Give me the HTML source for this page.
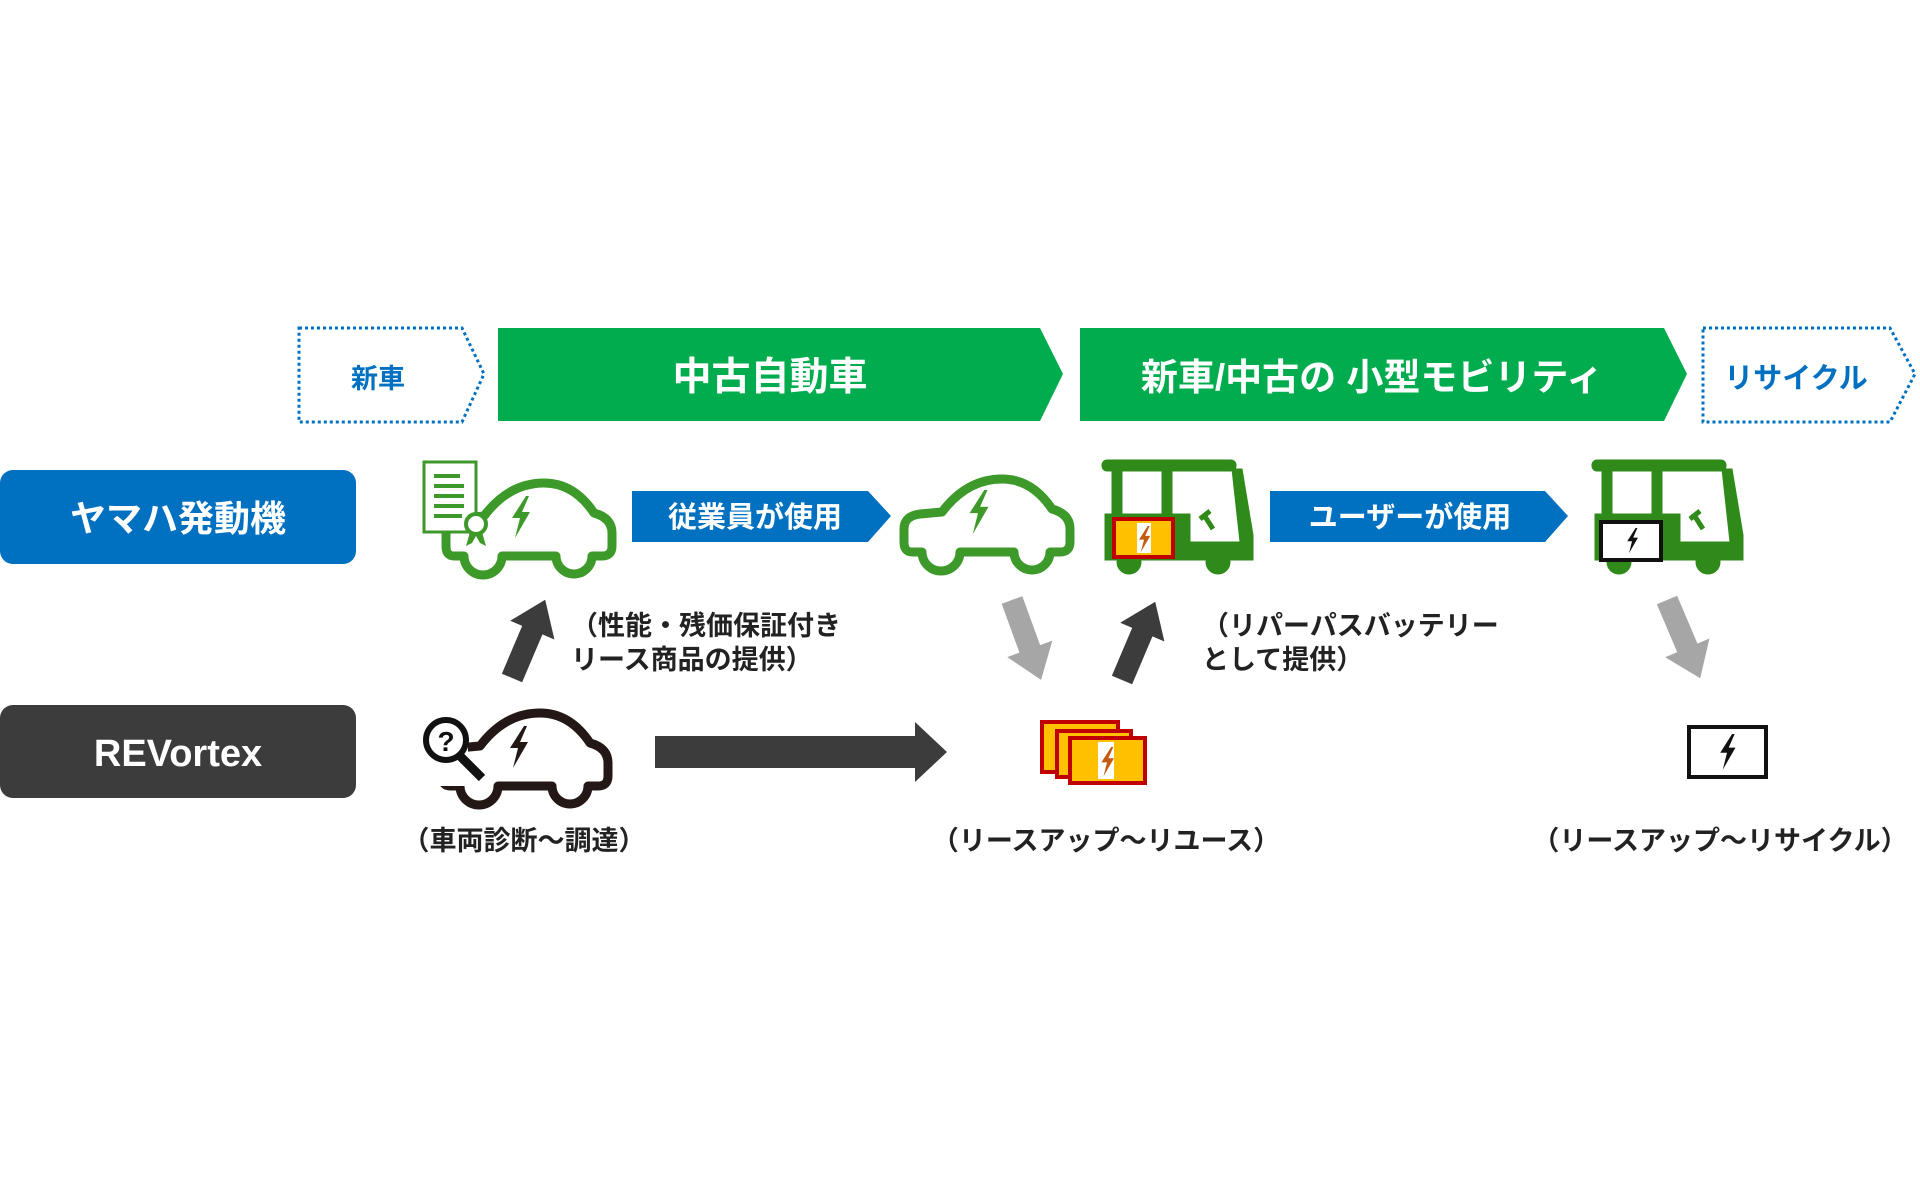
<!DOCTYPE html>
<html><head><meta charset="utf-8"><style>
html,body{margin:0;padding:0;background:#fff;width:1920px;height:1200px;overflow:hidden}
svg text{font-family:"Liberation Sans","Noto Sans CJK JP",sans-serif;}
</style></head><body>
<svg width="1920" height="1200" viewBox="0 0 1920 1200" xmlns="http://www.w3.org/2000/svg">
<defs>
<path id="car" d="M58,78 L112,78 A18,18 0 0 0 148,78 L158,78 Q168,78 168,68 L168,55 Q168,40 150,35 Q130,5 100,5 Q65,5 40,38 L18,40 Q2,42 2,55 L2,68 Q2,78 10,78 L20,78 A19,19 0 0 0 58,78 Z" fill="none" stroke-width="9" stroke-linejoin="round"/>
<polygon id="bolt" points="6,0 -8,22 0,22 -5,42 10,16 2,16 9,0"/>
<polygon id="arr" points="-11,0 11,0 11,-52 24,-52 0,-85 -24,-52 -11,-52"/>
<g id="tuk">
<rect x="2" y="1" width="134" height="11" rx="5"/>
<rect x="12" y="8" width="10" height="60"/>
<rect x="62" y="8" width="10" height="60"/>
<polygon points="5,55 90,55 90,83 140,83 132,10 142,10 153,76 153,101 5,101"/>
<circle cx="29" cy="103" r="12"/><circle cx="118" cy="103" r="12"/>
<line x1="104" y1="56" x2="113" y2="70" stroke-width="5"/>
<line x1="100" y1="60" x2="110" y2="52" stroke-width="5"/>
</g>
</defs>

<polygon points="299,328 462,328 484,374 462,422 299,422" fill="none" stroke="#0070c0" stroke-width="3" stroke-dasharray="3,3"/>
<text x="378" y="388" font-size="27" fill="#0070c0" text-anchor="middle" font-weight="bold">新車</text>
<polygon points="498,328 1040,328 1063,374 1040,421 498,421" fill="#00ac4e"/>
<text x="770" y="390" font-size="39" fill="#fff" text-anchor="middle" font-weight="bold">中古自動車</text>
<polygon points="1080,328 1664,328 1687,374 1664,421 1080,421" fill="#00ac4e"/>
<text x="1372" y="390" font-size="37" fill="#fff" text-anchor="middle" font-weight="bold">新車/中古の 小型モビリティ</text>
<polygon points="1703,328 1890,328 1915,374 1890,422 1703,422" fill="none" stroke="#0070c0" stroke-width="3" stroke-dasharray="3,3"/>
<text x="1796" y="388" font-size="29" fill="#0070c0" text-anchor="middle" font-weight="bold">リサイクル</text>

<rect x="0" y="470" width="356" height="94" rx="13" fill="#0070c0"/>
<text x="178" y="531" font-size="36" fill="#fff" text-anchor="middle" font-weight="bold">ヤマハ発動機</text>
<rect x="0" y="705" width="356" height="93" rx="13" fill="#3c3c3c"/>
<text x="178" y="766" font-size="38" fill="#fff" text-anchor="middle" font-weight="bold">REVortex</text>

<g transform="translate(444,478)"><use href="#car" stroke="#3d9a2a"/></g>
<rect x="424" y="462" width="52" height="70" fill="#fff" stroke="#3d9a2a" stroke-width="3"/>
<g stroke="#3d9a2a" stroke-width="4"><line x1="434" y1="476" x2="460" y2="476"/><line x1="434" y1="486" x2="464" y2="486"/><line x1="434" y1="496" x2="464" y2="496"/><line x1="434" y1="506" x2="464" y2="506"/><line x1="434" y1="516" x2="462" y2="516"/></g>
<circle cx="476" cy="524" r="10" fill="#fff" stroke="#3d9a2a" stroke-width="4"/>
<polygon points="470,532 466,546 472,543 476,536 480,543 486,546 482,532" fill="#3d9a2a"/>
<use href="#bolt" transform="translate(520,496)" fill="#3d9a2a"/>

<polygon points="632,491 868,491 891,516 868,542 632,542" fill="#0070c0"/>
<text x="755" y="527" font-size="29" fill="#fff" text-anchor="middle" font-weight="bold">従業員が使用</text>

<g transform="translate(902,474)"><use href="#car" stroke="#3d9a2a"/></g>
<use href="#bolt" transform="translate(978,490) scale(1.05)" fill="#3d9a2a"/>

<g transform="translate(1100,459)" fill="#2f8a1a" stroke="#2f8a1a"><use href="#tuk"/></g>
<rect x="1114" y="519" width="59" height="38" fill="#ffc000" stroke="#c00000" stroke-width="4"/>
<rect x="1137" y="523" width="14" height="30" fill="#fff"/>
<use href="#bolt" transform="translate(1144,526) scale(0.62)" fill="#c55a11"/>

<polygon points="1270,491 1545,491 1568,516 1545,542 1270,542" fill="#0070c0"/>
<text x="1410" y="527" font-size="29" fill="#fff" text-anchor="middle" font-weight="bold">ユーザーが使用</text>

<g transform="translate(1590,459)" fill="#2f8a1a" stroke="#2f8a1a"><use href="#tuk"/></g>
<rect x="1601" y="522" width="60" height="38" fill="#fff" stroke="#111" stroke-width="4"/>
<use href="#bolt" transform="translate(1632,528) scale(0.6)" fill="#111"/>

<use href="#arr" transform="translate(512,678) rotate(23)" fill="#3c3c3c"/>
<use href="#arr" transform="translate(1012,600) rotate(160)" fill="#a6a6a6"/>
<use href="#arr" transform="translate(1122,680) rotate(23)" fill="#3c3c3c"/>
<use href="#arr" transform="translate(1667,600) rotate(157)" fill="#a6a6a6"/>

<text x="571" y="635" font-size="27" fill="#222" font-weight="bold">（性能・残価保証付き</text>
<text x="571" y="669" font-size="27" fill="#222" font-weight="bold">リース商品の提供）</text>
<text x="1202" y="635" font-size="27" fill="#222" font-weight="bold">（リパーパスバッテリー</text>
<text x="1202" y="669" font-size="27" fill="#222" font-weight="bold">として提供）</text>

<g transform="translate(440,708)"><use href="#car" stroke="#231815"/></g>
<rect x="420" y="706" width="48" height="80" fill="#fff"/>
<circle cx="446" cy="740" r="20" fill="#fff" stroke="#111" stroke-width="6"/>
<text x="446" y="751" font-size="28" text-anchor="middle" font-weight="bold" fill="#111">?</text>
<line x1="460" y1="756" x2="482" y2="778" stroke="#111" stroke-width="9"/>
<use href="#bolt" transform="translate(518,726)" fill="#231815"/>

<polygon points="655,736 915,736 915,722 947,752 915,782 915,768 655,768" fill="#3c3c3c"/>

<rect x="1042" y="722" width="76" height="50" fill="#ffc000" stroke="#c00000" stroke-width="4"/>
<rect x="1057" y="731" width="74" height="46" fill="#ffc000" stroke="#c00000" stroke-width="4"/>
<rect x="1070" y="738" width="75" height="45" fill="#ffc000" stroke="#c00000" stroke-width="4"/>
<rect x="1098" y="742" width="16" height="37" fill="#fff"/>
<use href="#bolt" transform="translate(1107,747) scale(0.7)" fill="#c55a11"/>

<rect x="1689" y="727" width="77" height="50" fill="#fff" stroke="#111" stroke-width="4"/>
<use href="#bolt" transform="translate(1727,734) scale(0.85)" fill="#111"/>

<text x="524" y="850" font-size="27" fill="#222" text-anchor="middle" font-weight="bold">（車両診断～調達）</text>
<text x="1106" y="850" font-size="27" fill="#222" text-anchor="middle" font-weight="bold">（リースアップ～リユース）</text>
<text x="1720" y="850" font-size="27" fill="#222" text-anchor="middle" font-weight="bold">（リースアップ～リサイクル）</text>
</svg>
</body></html>
